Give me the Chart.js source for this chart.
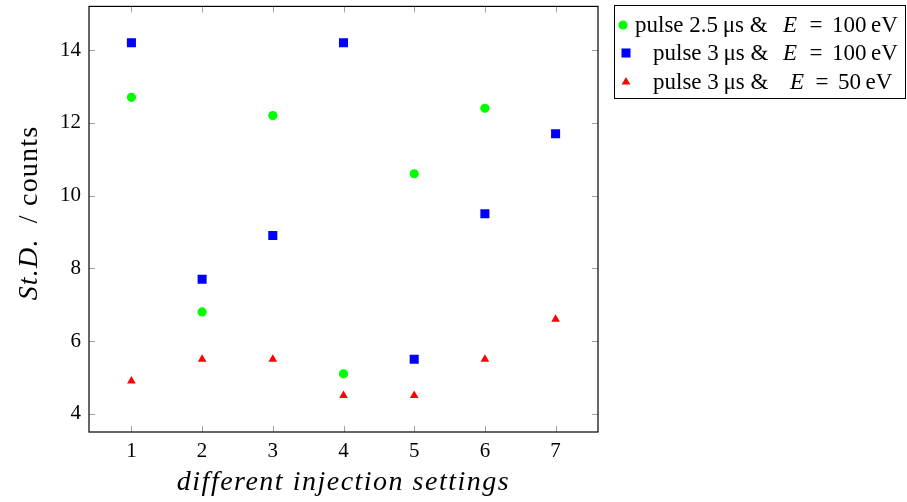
<!DOCTYPE html>
<html>
<head>
<meta charset="utf-8">
<script src="https://cdn.jsdelivr.net/npm/chart.js@4/dist/chart.umd.min.js"></script>
<style>
  html, body { margin: 0; padding: 0; background: #fff; }
  #wrap { width: 907px; height: 502px; }
</style>
</head>
<body>
<div id="wrap"><canvas id="stdChart" width="907" height="502"></canvas></div>
<script>
// values
const settings = [1, 2, 3, 4, 5, 6, 7];
const greenVals = [12.7, 6.8, 12.2, 5.1, 10.6, 12.4];
const blueVals = [14.2, 7.7, 8.9, 14.2, 5.5, 9.5, 11.7];
const redVals = [4.9, 5.5, 5.5, 4.5, 4.5, 5.5, 6.6];
const xTicks = [1, 2, 3, 4, 5, 6, 7];
const yTicks = [4, 6, 8, 10, 12, 14];

// legend pieces: text, italic, x position, alignment
const legendRows = [
    [['pulse 2.5\u2009\u03bcs &', false, 635, 'left'], ['E', true, 783, 'left'], ['=', false, 816, 'center'], ['100\u2009eV', false, 832, 'left']],
    [['pulse 3\u2009\u03bcs &', false, 653, 'left'], ['E', true, 783, 'left'], ['=', false, 816, 'center'], ['100\u2009eV', false, 832, 'left']],
    [['pulse 3\u2009\u03bcs &', false, 653, 'left'], ['E', true, 790, 'left'], ['=', false, 822, 'center'], ['50\u2009eV', false, 838, 'left']]
];

const serif = '"Liberation Serif", "DejaVu Serif", serif';

function toPoints(vals) {
    return vals.map((v, i) => ({ x: settings[i], y: v }));
}

// frame, inner ticks, axis titles and the legend box
const decor = {
    id: 'decor',
    afterDraw(chart) {
        const ctx = chart.ctx;
        const a = chart.chartArea;
        const xs = chart.scales.x, ys = chart.scales.y;
        ctx.save();
        ctx.strokeStyle = '#a0a0a0';
        ctx.lineWidth = 1;
        ctx.beginPath();
        xTicks.forEach(t => {
            const px = Math.round(xs.getPixelForValue(t)) + 0.5;
            ctx.moveTo(px, a.bottom); ctx.lineTo(px, a.bottom - 6);
            ctx.moveTo(px, a.top); ctx.lineTo(px, a.top + 6);
        });
        yTicks.forEach(t => {
            const py = Math.round(ys.getPixelForValue(t)) + 0.5;
            ctx.moveTo(a.left, py); ctx.lineTo(a.left + 6, py);
            ctx.moveTo(a.right, py); ctx.lineTo(a.right - 6, py);
        });
        ctx.stroke();

        ctx.strokeStyle = '#000';
        ctx.lineWidth = 1.2;
        ctx.strokeRect(a.left, a.top, a.right - a.left, a.bottom - a.top);

        // axis titles
        ctx.fillStyle = '#000';
        ctx.textBaseline = 'middle';
        ctx.textAlign = 'center';
        ctx.font = 'italic 28px ' + serif;
        ctx.letterSpacing = '1.5px';
        ctx.fillText('different injection settings', (a.left + a.right) / 2, 483);

        ctx.save();
        ctx.translate(30, 213);
        ctx.rotate(-Math.PI / 2);
        ctx.textAlign = 'left';
        ctx.letterSpacing = '1.2px';
        const p1 = 'St.D.', p2 = '\u2002/ counts';
        ctx.font = 'italic 28px ' + serif;
        const w1 = ctx.measureText(p1).width;
        ctx.font = '28px ' + serif;
        const w2 = ctx.measureText(p2).width;
        let x0 = -(w1 + w2) / 2;
        ctx.font = 'italic 28px ' + serif;
        ctx.fillText(p1, x0, 0);
        ctx.font = '28px ' + serif;
        ctx.fillText(p2, x0 + w1, 0);
        ctx.restore();
        ctx.letterSpacing = '0px';

        // legend
        ctx.strokeStyle = '#000';
        ctx.lineWidth = 1;
        ctx.strokeRect(614.5, 5.5, 291, 93);
        const rowsY = [26, 54, 83];
        chart.data.datasets.forEach((ds, i) => {
            const mx = i === 0 ? 623 : 626;
            const my = rowsY[i] - 1;
            ctx.fillStyle = ds.backgroundColor;
            ctx.beginPath();
            if (ds.pointStyle === 'circle') {
                ctx.arc(mx, my, ds.pointRadius, 0, Math.PI * 2);
            } else if (ds.pointStyle === 'rect') {
                const s = ds.pointRadius * Math.SQRT1_2;
                ctx.rect(mx - s, my - s, 2 * s, 2 * s);
            } else {
                const r = ds.pointRadius;
                ctx.moveTo(mx, my - r);
                ctx.lineTo(mx + r * 0.87, my + r * 0.5);
                ctx.lineTo(mx - r * 0.87, my + r * 0.5);
                ctx.closePath();
            }
            ctx.fill();

            ctx.fillStyle = '#000';
            legendRows[i].forEach(([txt, it, x, align]) => {
                ctx.textAlign = align;
                ctx.font = (it ? 'italic ' : '') + '23px ' + serif;
                ctx.fillText(txt, x, rowsY[i]);
            });
        });
        ctx.restore();
    }
};

const ctx = document.getElementById('stdChart').getContext('2d');
const stdChart = new Chart(ctx, {
    type: 'scatter',
    data: {
        datasets: [{
            label: 'pulse 2.5 \u03bcs & E = 100 eV',
            data: toPoints(greenVals),
            pointStyle: 'circle',
            pointRadius: 4.6,
            backgroundColor: '#00ff00',
            borderWidth: 0
        }, {
            label: 'pulse 3 \u03bcs & E = 100 eV',
            data: toPoints(blueVals),
            pointStyle: 'rect',
            pointRadius: 6.4,
            backgroundColor: '#0000ff',
            borderWidth: 0
        }, {
            label: 'pulse 3 \u03bcs & E = 50 eV',
            data: toPoints(redVals),
            pointStyle: 'triangle',
            pointRadius: 5,
            backgroundColor: '#ff0000',
            borderWidth: 0
        }]
    },
    options: {
        responsive: false,
        animation: false,
        layout: { padding: { left: 0, top: 6, right: 309, bottom: 0 } },
        plugins: {
            legend: { display: false },
            tooltip: { enabled: false }
        },
        scales: {
            x: {
                type: 'linear',
                min: 0.4,
                max: 7.6,
                afterBuildTicks: s => { s.ticks = xTicks.map(v => ({ value: v })); },
                afterFit: s => { s.height = 70; s.paddingLeft = 0; s.paddingRight = 0; },
                grid: { display: false, drawTicks: false },
                border: { display: false },
                ticks: {
                    color: '#000',
                    padding: 7,
                    font: { family: serif, size: 21 }
                }
            },
            y: {
                type: 'linear',
                min: 3.5,
                max: 15.2,
                afterBuildTicks: s => { s.ticks = yTicks.map(v => ({ value: v })); },
                afterFit: s => { s.width = 89; s.paddingTop = 0; s.paddingBottom = 0; },
                grid: { display: false, drawTicks: false },
                border: { display: false },
                ticks: {
                    color: '#000',
                    padding: 8,
                    font: { family: serif, size: 21 }
                }
            }
        }
    },
    plugins: [decor]
});
</script>
</body>
</html>
